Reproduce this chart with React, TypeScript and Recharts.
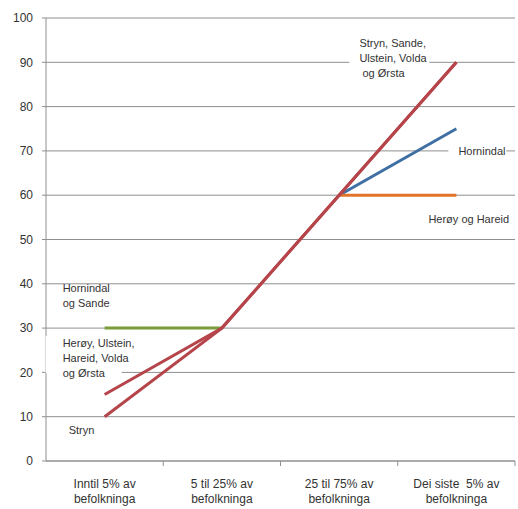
import React from "react";
import { LineChart, Line, XAxis, YAxis, CartesianGrid, ReferenceDot } from "recharts";

// ---- data ----
const categories = ["c0", "c1", "c2", "c3"];
const tickLine1 = ["Inntil 5% av", "5 til 25% av", "25 til 75% av", "Dei siste  5% av"];
const tickLine2 = ["befolkninga", "befolkninga", "befolkninga", "befolkninga"];
const yTicks = [0, 10, 20, 30, 40, 50, 60, 70, 80, 90, 100];

const stryn = [10, 30, 60, 90];
const heroyUlsteinHareidVoldaOrsta = [15, 30, 60, 90];
const hornindalSande = [30, 30, null, null];
const hornindal = [null, null, 60, 75];
const heroyHareid = [null, null, 60, 60];

const annotationTexts = [
  ["Stryn, Sande,", "Ulstein, Volda", " og Ørsta"],
  ["Hornindal"],
  ["Herøy og Hareid"],
  ["Hornindal", "og Sande"],
  ["Herøy, Ulstein,", "Hareid, Volda", "og Ørsta"],
  ["Stryn"],
];
const annotationCats = ["c3", "c3", "c3", "c0", "c0", "c0"];
const annotationValues = [90, 70, 60, 30, 30, 10];

// ---- layout / style (not data) ----
const W = 518;
const H = 509;
const LEFT = 46;
const RIGHT = 3;
const BAND = (W - LEFT - RIGHT) / 4;
const FONT = "'Liberation Sans', Arial, sans-serif";
const TEXT = "#333333";
const GRID = "#8f8f8f";

// per annotation: dx, dy (first line centre), box [left pad, width, top pad, height] or null
const annotationLayout = [
  { dx: -97, dy: -19, box: [-10, 80, -9, 44] },
  { dx: 2, dy: 0, box: [-10, 58, -8, 16] },
  { dx: -28, dy: 24, box: null },
  { dx: -42, dy: -40, box: null },
  { dx: -42, dy: 15, box: [-17, 76, -7, 37] },
  { dx: -36, dy: 13, box: null },
];

const rows = categories.map((c, i) => ({
  cat: c,
  stryn: stryn[i],
  heroy: heroyUlsteinHareidVoldaOrsta[i],
  hornSande: hornindalSande[i],
  hornindal: hornindal[i],
  heroyHareid: heroyHareid[i],
}));

const XTick = (props: any) => {
  const { x, y, payload } = props;
  const i = categories.indexOf(payload.value);
  return (
    <g>
      <line x1={x + BAND / 2} x2={x + BAND / 2} y1={y} y2={y + 5} stroke={GRID} />
      <text x={x} y={y + 27} textAnchor="middle" fontSize={12} fontFamily={FONT} fill={TEXT} style={{ whiteSpace: "pre" }}>
        {tickLine1[i]}
      </text>
      <text x={x} y={y + 42} textAnchor="middle" fontSize={12} fontFamily={FONT} fill={TEXT}>
        {tickLine2[i]}
      </text>
    </g>
  );
};

const makeAnnotation = (k: number) => (p: any) => {
  const { cx, cy } = p;
  const L = annotationLayout[k];
  const tx = cx + L.dx;
  const ty = cy + L.dy;
  return (
    <g>
      {L.box && (
        <rect x={tx + L.box[0]} y={ty + L.box[2]} width={L.box[1]} height={L.box[3]} fill="#fff" />
      )}
      {annotationTexts[k].map((t, j) => (
        <text
          key={j}
          x={tx}
          y={ty + j * 15}
          dy="0.35em"
          fontSize={11}
          fontFamily={FONT}
          fill={TEXT}
          style={{ whiteSpace: "pre" }}
        >
          {t}
        </text>
      ))}
    </g>
  );
};

export default function App() {
  return (
    <div style={{ position: "absolute", left: 0, top: 0, width: W, height: H, background: "#fff" }}>
      <LineChart width={W} height={H} data={rows} margin={{ top: 18, right: RIGHT, left: 0, bottom: 0 }}>
        <CartesianGrid vertical={false} stroke={GRID} strokeWidth={1} />
        <XAxis
          dataKey="cat"
          height={48}
          axisLine={{ stroke: GRID }}
          tickLine={false}
          tickSize={0}
          tickMargin={0}
          interval={0}
          padding={{ left: BAND / 2, right: BAND / 2 }}
          tick={<XTick />}
        />
        <YAxis
          domain={[0, 100]}
          ticks={yTicks}
          width={LEFT}
          axisLine={{ stroke: GRID }}
          tickLine={{ stroke: GRID }}
          tickSize={4}
          tickMargin={9}
          interval={0}
          tick={{ fontSize: 12, fontFamily: FONT, fill: TEXT }}
        />
        {annotationTexts.map((_, k) => (
          <ReferenceDot
            key={k}
            x={annotationCats[k]}
            y={annotationValues[k]}
            r={0}
            ifOverflow="visible"
            shape={makeAnnotation(k)}
          />
        ))}
        <Line dataKey="hornSande" stroke="#7a9c3a" strokeWidth={3} dot={false} isAnimationActive={false} />
        <Line dataKey="hornindal" stroke="#3f6fa3" strokeWidth={3} dot={false} isAnimationActive={false} />
        <Line dataKey="heroyHareid" stroke="#e0742a" strokeWidth={3} dot={false} isAnimationActive={false} />
        <Line dataKey="heroy" stroke="#b5454a" strokeWidth={3} dot={false} isAnimationActive={false} />
        <Line dataKey="stryn" stroke="#b5454a" strokeWidth={3} dot={false} isAnimationActive={false} />
      </LineChart>
    </div>
  );
}
